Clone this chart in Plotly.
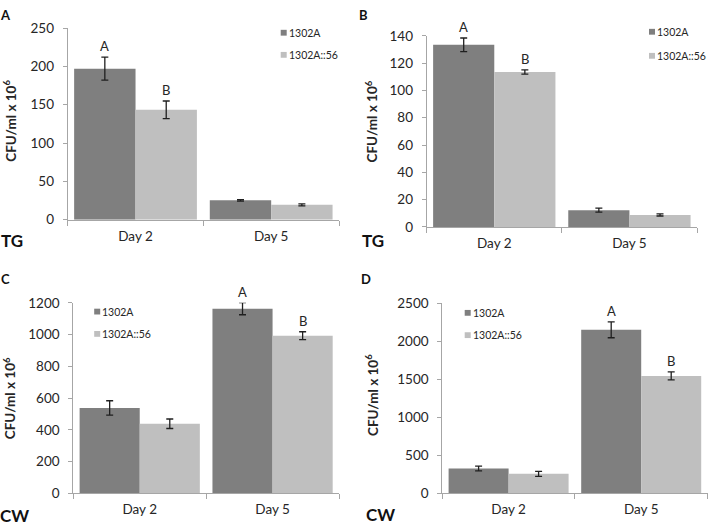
import plotly.graph_objects as go

W, H = 709, 532

# ---------------- data ----------------
days = ["Day 2", "Day 5"]
strains = ["1302A", "1302A::56"]

a_1302A = [197, 25.3]
a_1302A_err = [15, 1]
a_1302A56 = [143.4, 19.4]
a_1302A56_err = [11.5, 1.3]
a_letters = [["A", ""], ["B", ""]]

b_1302A = [133.4, 12.3]
b_1302A_err = [5, 1.5]
b_1302A56 = [113.5, 8.8]
b_1302A56_err = [1.5, 0.8]
b_letters = [["A", ""], ["B", ""]]

c_1302A = [538, 1163]
c_1302A_err = [45, 38]
c_1302A56 = [438, 993]
c_1302A56_err = [30, 25]
c_letters = [["", "A"], ["", "B"]]

d_1302A = [325, 2150]
d_1302A_err = [32, 105]
d_1302A56 = [255, 1543]
d_1302A56_err = [34, 53]
d_letters = [["", "A"], ["", "B"]]

y_ranges = [[0, 250], [0, 140], [0, 1200], [0, 2500]]
y_dticks = [50, 20, 200, 500]
panel_letters = ["A", "B", "C", "D"]
media = ["TG", "TG", "CW", "CW"]

# ---------------- style ----------------
DARK = "#7f7f7f"
LIGHT = "#bfbfbf"
AXC = "#a6a6a6"
TXT = "#262626"
FONT = "Lato"

def fx(px):
    return px / W

def fy(py):
    return 1 - py / H

# panel geometry in pixels: (x0, x1, ytop, ybottom)
geo = [
    (67.7, 339.0, 20.7, 218.3),
    (426.7, 697.0, 28.7, 225.7),
    (73.3, 339.0, 304.0, 500.3),
    (442.3, 707.5, 304.3, 500.3),
]
# legend: (square center x, item1 y, item2 y)
leg = [
    (283.7, 25.5, 48.3),
    (652.0, 24.5, 49.3),
    (97.2, 313.0, 336.0),
    (467.7, 314.3, 337.3),
]
ytitle = [(10, 116.3), (371.5, 117.5), (10, 402.3), (372, 399)]
pletter = [(5.5, 7.3), (363, 7.3), (5.5, 279.3), (365.5, 279)]
medpos = [(12, 239.5), (373, 240), (15, 523), (380, 522)]

panels = [
    (a_1302A, a_1302A_err, a_1302A56, a_1302A56_err, a_letters),
    (b_1302A, b_1302A_err, b_1302A56, b_1302A56_err, b_letters),
    (c_1302A, c_1302A_err, c_1302A56, c_1302A56_err, c_letters),
    (d_1302A, d_1302A_err, d_1302A56, d_1302A56_err, d_letters),
]

fig = go.Figure()
annotations = []
shapes = []
layout = {}

BG = 0.095
half = (1 - BG) / 2  # bar width in category units
centers = [-half / 2, half / 2]

for i, (v1, e1, v2, e2, letters) in enumerate(panels):
    n = "" if i == 0 else str(i + 1)
    xa, ya = "x" + n, "y" + n
    ymax = y_ranges[i][1]
    for j, (vals, errs, col) in enumerate([(v1, e1, DARK), (v2, e2, LIGHT)]):
        fig.add_trace(go.Bar(
            x=days, y=vals, name=strains[j], marker=dict(color=col, line=dict(width=0)),
            error_y=dict(type="data", array=errs, visible=True, color="#1f1f1f",
                         thickness=1.3, width=3.5),
            xaxis=xa, yaxis=ya, showlegend=False,
        ))
        for k, lab in enumerate(letters[j]):
            if lab:
                annotations.append(dict(
                    x=k + centers[j], y=(vals[k] + errs[k]) / ymax,
                    xref=xa, yref=ya + " domain",
                    text=lab, showarrow=False, yanchor="bottom", yshift=1,
                    font=dict(family=FONT, size=13, color=TXT),
                ))
    x0, x1, yt, yb = geo[i]
    layout["xaxis" + n] = dict(
        domain=[fx(x0), fx(x1)], anchor=ya, type="category",
        categoryorder="array", categoryarray=days,
        showline=True, linecolor=AXC, linewidth=1, ticks="outside",
        tickson="boundaries", ticklen=5, tickcolor=AXC, showgrid=False,
        tickfont=dict(family=FONT, size=13.5, color=TXT), ticklabelstandoff=4,
        range=[-0.5, 1.5], fixedrange=True,
    )
    layout["yaxis" + n] = dict(
        domain=[fy(yb), fy(yt)], anchor=xa, range=y_ranges[i], dtick=y_dticks[i],
        showline=True, linecolor=AXC, linewidth=1, ticks="outside", ticklen=4,
        tickcolor=AXC, showgrid=False, zeroline=False,
        tickfont=dict(family=FONT, size=13.5, color=TXT), ticklabelstandoff=6,
    )
    # y-axis title
    tx, ty = ytitle[i]
    annotations.append(dict(
        x=fx(tx), y=fy(ty), xref="paper", yref="paper", textangle=-90,
        text="<b>CFU/ml x 10<sup>6</sup></b>", showarrow=False,
        xanchor="center", yanchor="middle",
        font=dict(family=FONT, size=13.5, color=TXT),
    ))
    # panel letter
    px_, py_ = pletter[i]
    annotations.append(dict(
        x=fx(px_), y=fy(py_), xref="paper", yref="paper",
        text="<b>" + panel_letters[i] + "</b>", showarrow=False,
        xanchor="center", yanchor="middle",
        font=dict(family=FONT, size=13, color="#111111"),
    ))
    # medium label
    mx, my = medpos[i]
    annotations.append(dict(
        x=fx(mx), y=fy(my), xref="paper", yref="paper",
        text="<b>" + media[i] + "</b>", showarrow=False,
        xanchor="center", yanchor="middle",
        font=dict(family=FONT, size=17, color="#111111"),
    ))
    # legend (swatch + label)
    sx, ly1, ly2 = leg[i]
    for name, col, ly in [(strains[0], DARK, ly1), (strains[1], LIGHT, ly2)]:
        shapes.append(dict(
            type="rect", xref="paper", yref="paper",
            x0=fx(sx - 3), x1=fx(sx + 3), y0=fy(ly + 3), y1=fy(ly - 3),
            fillcolor=col, line=dict(width=0),
        ))
        annotations.append(dict(
            x=fx(sx + 4), y=fy(ly), xref="paper", yref="paper", text=name,
            showarrow=False, xanchor="left", yanchor="middle", borderpad=0,
            font=dict(family=FONT, size=10.5, color=TXT),
        ))

fig.update_layout(
    width=W, height=H, margin=dict(l=0, r=0, t=0, b=0),
    paper_bgcolor="white", plot_bgcolor="white",
    barmode="group", bargap=BG, bargroupgap=0,
    annotations=annotations, shapes=shapes, showlegend=False,
    **layout,
)

fig.write_html(
    "out.html",
    config={"displayModeBar": False},
    post_script="document.body.style.margin='0';document.body.style.overflow='hidden';",
)
